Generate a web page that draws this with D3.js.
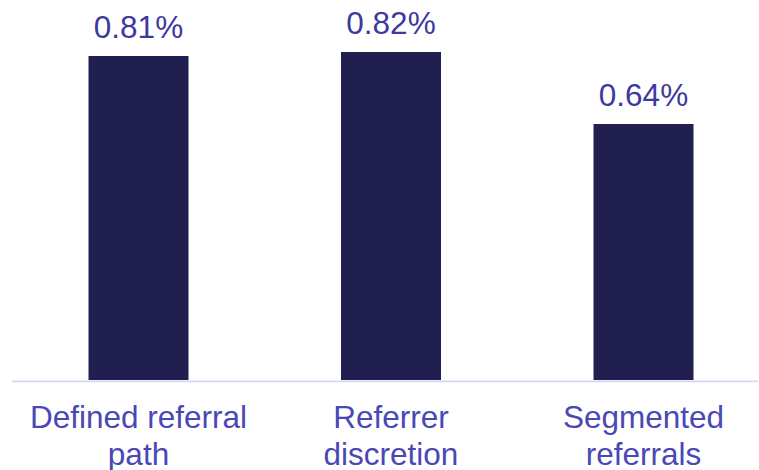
<!DOCTYPE html>
<html>
<head>
<meta charset="utf-8">
<script src="https://cdn.jsdelivr.net/npm/d3@7"></script>
<style>
  html, body { margin: 0; padding: 0; background: #ffffff; }
  svg { display: block; }
</style>
</head>
<body>
<svg id="chart" width="759" height="470"></svg>
<script>
// Referral approach categories (each label split over two lines)
const categories = ["Defined referral path", "Referrer discretion", "Segmented referrals"];
const categoryLines = [["Defined referral", "path"], ["Referrer", "discretion"], ["Segmented", "referrals"]];
// Rates in percent
const values = [0.81, 0.82, 0.64];

const svg = d3.select("#chart");
const baseY = 380;

const x = d3.scaleBand()
  .domain(categories)
  .range([12.25, 769.75])
  .paddingInner(0.604)
  .paddingOuter(0.302);

const y = d3.scaleLinear()
  .domain([0, 0.95])
  .range([baseY, baseY - 380]);

// Bars
svg.append("g")
  .selectAll("rect")
  .data(values)
  .join("rect")
  .attr("x", (d, i) => x(categories[i]))
  .attr("y", d => y(d))
  .attr("width", x.bandwidth())
  .attr("height", d => y(0) - y(d))
  .attr("fill", "#211f4f");

// Baseline
svg.append("line")
  .attr("x1", 12).attr("x2", 758)
  .attr("y1", baseY + 1.4).attr("y2", baseY + 1.4)
  .attr("stroke", "#d8d5f1")
  .attr("stroke-width", 1.6);

// Value labels
svg.append("g")
  .selectAll("text")
  .data(values)
  .join("text")
  .attr("x", (d, i) => x(categories[i]) + x.bandwidth() / 2)
  .attr("y", d => y(d) - 18)
  .attr("text-anchor", "middle")
  .attr("font-family", "'Liberation Sans', Arial, sans-serif")
  .attr("font-size", 31.5)
  .attr("fill", "#3c3a9f")
  .text(d => d.toFixed(2) + "%");

// Category labels
const cat = svg.append("g")
  .selectAll("text")
  .data(categories)
  .join("text")
  .attr("x", d => x(d) + x.bandwidth() / 2)
  .attr("y", 428)
  .attr("text-anchor", "middle")
  .attr("font-family", "'Liberation Sans', Arial, sans-serif")
  .attr("font-size", 31.5)
  .attr("fill", "#4a47b6");

cat.selectAll("tspan")
  .data((d, i) => categoryLines[i])
  .join("tspan")
  .attr("x", function () { return d3.select(this.parentNode).attr("x"); })
  .attr("dy", (d, j) => j === 0 ? 0 : 36.5)
  .text(d => d);
</script>
</body>
</html>
